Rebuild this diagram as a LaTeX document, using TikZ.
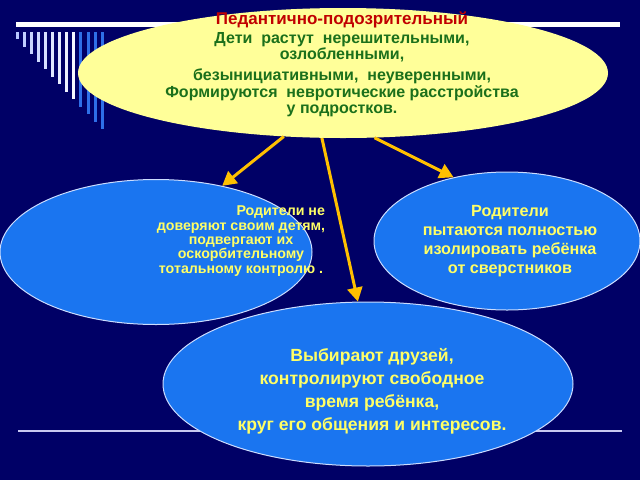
\documentclass[tikz,border=0pt]{standalone}
\usepackage{fontspec}
\setmainfont{Liberation Sans}
\usetikzlibrary{shapes.geometric,arrows.meta}
\definecolor{bg}{HTML}{000066}
\definecolor{ellblue}{HTML}{1A75F0}
\definecolor{ellline}{HTML}{CCDDFF}
\definecolor{paleyellow}{HTML}{FFFF99}
\definecolor{txtyellow}{HTML}{FFFF66}
\definecolor{txtgreen}{HTML}{1B701B}
\definecolor{txtred}{HTML}{C00000}
\definecolor{gold}{HTML}{FFC000}
\definecolor{barblue}{HTML}{2E6FE8}
\definecolor{barpale}{HTML}{B8C8FF}
\definecolor{lavender}{HTML}{C8C8F0}
\tikzset{
  blueell/.style={ellipse, fill=ellblue, draw=ellline, line width=1pt, inner sep=0pt},
  yelell/.style={ellipse, fill=paleyellow, inner sep=0pt},
  ytext/.style={text=txtyellow, font=\bfseries, align=center, inner sep=0pt},
  gtext/.style={text=txtgreen, font=\bfseries, align=center, inner sep=0pt},
  goldarrow/.style={draw=gold, line width=3pt, -{Triangle[length=14pt,width=15pt]}}
}
\begin{document}
\begin{tikzpicture}[x=1pt,y=-1pt]
\fill[bg] (0,0) rectangle (640,480);
\useasboundingbox (0,0) rectangle (640,480);
% top white line
\draw[white, line width=5pt] (16,24) -- (620,24);
% vertical bars
\foreach \i in {0,...,12}{
  \pgfmathsetmacro{\xx}{17+7.1*\i}
  \pgfmathsetmacro{\yy}{39+7.5*\i}
  \ifnum\i<9
    \pgfmathtruncatemacro{\pc}{100-11*\i}
    \draw[barpale!\pc!white, line width=3pt] (\xx,32) -- (\xx,\yy);
  \else
    \draw[barblue, line width=3pt] (\xx,32) -- (\xx,\yy);
  \fi
}
% bottom line
\draw[lavender, line width=1.5pt] (18,431) -- (622,431);
% top ellipse
\node[yelell, minimum width=530pt, minimum height=130pt] (top) at (343,73) {};
\node[text=txtred, font=\bfseries\fontsize{17}{18}\selectfont, inner sep=0pt] (title) at (342,20) {Педантично-подозрительный};
\node[gtext, font=\bfseries\fontsize{16}{16.5}\selectfont] (t1) at (342,47) {Дети \ растут \ нерешительными,\\озлобленными,};
\node[gtext, font=\bfseries\fontsize{16}{16.5}\selectfont] (t2) at (342,76) {безынициативными, \ неуверенными,};
\node[gtext, font=\bfseries\fontsize{16}{16.5}\selectfont] (t3) at (342,101) {Формируются \ невротические расстройства\\у подростков.};
% left ellipse
\node[blueell, minimum width=312pt, minimum height=145pt] (left) at (156,252) {};
\node[ytext, font=\bfseries\fontsize{14.2}{14.3}\selectfont] (lt) at (241,241) {\hspace*{5.6em}Родители не\\доверяют своим детям,\\подвергают их\\оскорбительному\\тотальному контролю .};
% right ellipse
\node[blueell, minimum width=266pt, minimum height=138pt] (right) at (507,241) {};
\node[ytext, font=\bfseries\fontsize{16.2}{19}\selectfont] (rt) at (510,241) {Родители\\пытаются полностью\\изолировать ребёнка\\от сверстников};
% bottom ellipse
\node[blueell, minimum width=410pt, minimum height=164pt] (bottom) at (368,384) {};
\node[ytext, font=\bfseries\fontsize{17.6}{23}\selectfont] (bt) at (372,391) {Выбирают друзей,\\контролируют свободное\\время ребёнка,\\круг его общения и интересов.};
% arrows
\draw[goldarrow] (top.-133) -- (left.45);
\draw[goldarrow] (top.-108) -- (bottom.97);
\draw[goldarrow] (top.-64) -- (right.130);
\end{tikzpicture}
\end{document}
